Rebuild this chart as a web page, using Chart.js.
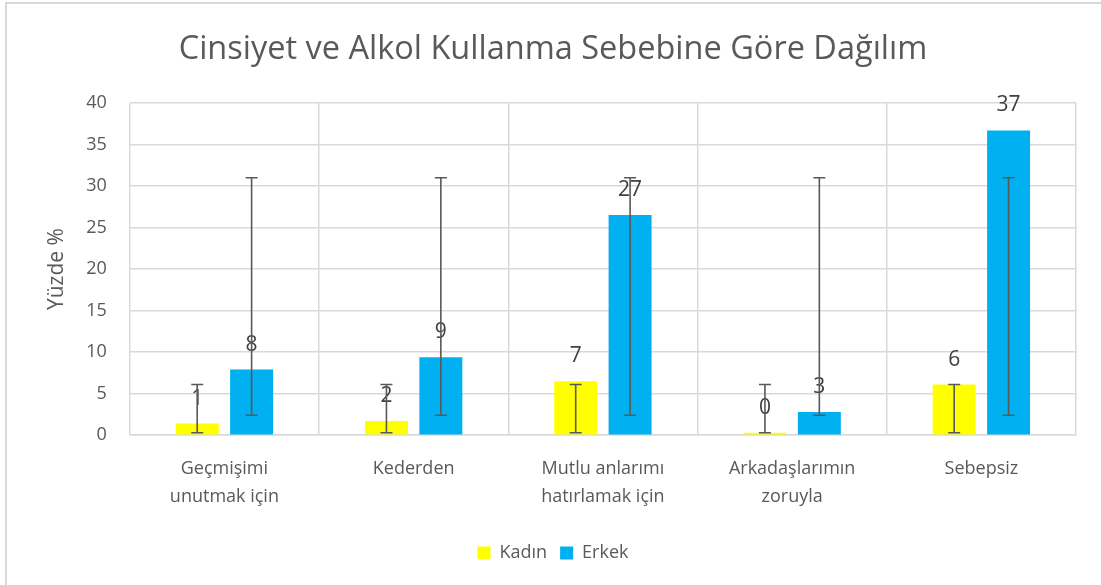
<!DOCTYPE html>
<html>
<head>
<meta charset="utf-8">
<script src="https://cdn.jsdelivr.net/npm/chart.js@4.4.1/dist/chart.umd.min.js"></script>
<style>
  html, body { margin: 0; padding: 0; background: #fff; }
  #wrap { width: 1101px; height: 585px; position: relative; }
</style>
</head>
<body>
<div id="wrap"><canvas id="myChart" width="1101" height="585"></canvas></div>
<script>
// chart data
const categories = [['Geçmişimi', 'unutmak için'], 'Kederden', ['Mutlu anlarımı', 'hatırlamak için'], ['Arkadaşlarımın', 'zoruyla'], 'Sebepsiz'];
const kadin = [1.4, 1.7, 6.5, 0.3, 6.1];
const erkek = [7.9, 9.4, 26.5, 2.8, 36.7];
// error bar ends (same range for every category of a series)
const kadinErrLow = [0.3, 0.3, 0.3, 0.3, 0.3];
const kadinErrHigh = [6.1, 6.1, 6.1, 6.1, 6.1];
const erkekErrLow = [2.4, 2.4, 2.4, 2.4, 2.4];
const erkekErrHigh = [31, 31, 31, 31, 31];
const yTicks = [0, 5, 10, 15, 20, 25, 30, 35, 40];

const grey = '#595959';
const FONT = "'Open Sans', 'Noto Sans', sans-serif";

// outer frame lines
const framePlugin = {
  id: 'frame',
  beforeDraw(chart) {
    const c = chart.ctx;
    c.save();
    c.fillStyle = '#fff';
    c.fillRect(0, 0, chart.width, chart.height);
    c.strokeStyle = '#d9d9d9';
    c.lineWidth = 2;
    c.beginPath();
    c.moveTo(6, chart.height);
    c.lineTo(6, 3);
    c.lineTo(chart.width, 3);
    c.stroke();
    c.restore();
  }
};

// value labels + error bars
const extrasPlugin = {
  id: 'extras',
  afterDatasetsDraw(chart) {
    const c = chart.ctx;
    const y = chart.scales.y;
    const errs = [[kadinErrLow, kadinErrHigh], [erkekErrLow, erkekErrHigh]];
    c.save();
    chart.data.datasets.forEach((ds, di) => {
      const meta = chart.getDatasetMeta(di);
      meta.data.forEach((bar, i) => {
        c.fillStyle = '#404040';
        c.font = '21px ' + FONT;
        c.textAlign = 'center';
        c.textBaseline = 'middle';
        c.fillText(Math.round(ds.data[i]), bar.x, bar.y - 25);
      });
    });
    chart.data.datasets.forEach((ds, di) => {
      const meta = chart.getDatasetMeta(di);
      meta.data.forEach((bar, i) => {
        const lo = y.getPixelForValue(errs[di][0][i]);
        const hi = y.getPixelForValue(errs[di][1][i]);
        c.strokeStyle = grey;
        c.lineWidth = 1.6;
        c.beginPath();
        c.moveTo(bar.x, lo); c.lineTo(bar.x, hi);
        c.moveTo(bar.x - 6, lo); c.lineTo(bar.x + 6, lo);
        c.moveTo(bar.x - 6, hi); c.lineTo(bar.x + 6, hi);
        c.stroke();
      });
    });
    c.restore();
  }
};

const ctx = document.getElementById('myChart');
const myChart = new Chart(ctx, {
  type: 'bar',
  data: {
    labels: categories,
    datasets: [
      { label: 'Kadın', data: kadin, backgroundColor: '#ffff00', categoryPercentage: 0.575, barPercentage: 0.79 },
      { label: 'Erkek', data: erkek, backgroundColor: '#00b0f0', categoryPercentage: 0.575, barPercentage: 0.79 }
    ]
  },
  options: {
    responsive: false,
    animation: false,
    layout: { padding: { left: 30, right: 25, top: 30, bottom: 13 } },
    plugins: {
      title: {
        display: true,
        text: 'Cinsiyet ve Alkol Kullanma Sebebine Göre Dağılım',
        color: grey,
        font: { family: FONT, size: 32.5, weight: 'normal' },
        padding: { top: 0, bottom: 34 }
      },
      legend: {
        position: 'bottom',
        labels: {
          color: grey,
          boxWidth: 13,
          boxHeight: 13,
          padding: 13,
          font: { family: FONT, size: 18 }
        }
      },
      tooltip: { enabled: false }
    },
    scales: {
      x: {
        grid: { color: '#d9d9d9', lineWidth: 1.5, drawTicks: false },
        border: { color: '#d9d9d9', width: 1.5 },
        ticks: { color: grey, font: { family: FONT, size: 18, lineHeight: 1.55 }, padding: 20, maxRotation: 0 }
      },
      y: {
        min: 0,
        max: 40,
        afterBuildTicks(axis) { axis.ticks = yTicks.map(v => ({ value: v })); },
        grid: { color: '#d9d9d9', lineWidth: 1.5, drawTicks: false },
        border: { display: false },
        ticks: { color: grey, font: { family: FONT, size: 18 }, padding: 23 },
        title: { display: true, text: 'Yüzde %', color: grey, font: { family: FONT, size: 21 }, padding: { top: 14, bottom: -6 } }
      }
    }
  },
  plugins: [framePlugin, extrasPlugin]
});
</script>
</body>
</html>
